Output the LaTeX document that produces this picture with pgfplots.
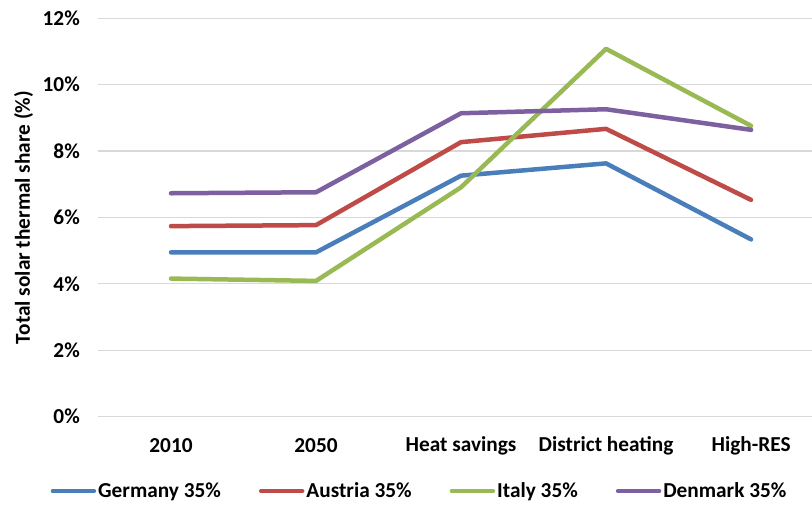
\documentclass[border=0pt]{standalone}
\usepackage{fontspec}
\setmainfont{Carlito}
\usepackage{pgfplots}
\pgfplotsset{compat=1.18}
\definecolor{germ}{HTML}{4A7EBB}
\definecolor{aust}{HTML}{BE4B48}
\definecolor{ital}{HTML}{98B954}
\definecolor{denm}{HTML}{7D60A0}
\definecolor{gridgray}{HTML}{D9D9D9}
\begin{document}
\begin{tikzpicture}
\useasboundingbox (-98.5pt,-88.3pt) rectangle (713.5pt,416.7pt);
\begin{axis}[
  at={(0,0)}, anchor=south west,
  scale only axis, width=713.5pt, height=398.4pt,
  xmin=-0.5, xmax=4.42, ymin=0, ymax=12,
  xtick={0,...,4},
  xticklabels={2010,2050,Heat savings,District heating,High-RES},
  ytick={0,2,...,12},
  yticklabel={\pgfmathprintnumber{\tick}\%},
  /pgf/number format/assume math mode=true,
  font=\fontsize{21.3}{25}\selectfont\bfseries,
  axis line style={draw=none},
  major tick length=0pt,
  ymajorgrids, grid style={line width=1.2pt, color=gridgray},
  xticklabel style={anchor=center, yshift=-29.3pt},
  yticklabel style={anchor=east, inner xsep=0pt, xshift=-18.5pt},
  ylabel={Total solar thermal share (\%)},
  every axis y label/.style={at={(axis description cs:-0.105,0.5)}, rotate=90, anchor=center},
  legend columns=4,
  legend style={at={(0.45,-0.1865)}, anchor=center, draw=none,
    font=\fontsize{21.3}{25}\selectfont\bfseries,
    inner xsep=0pt,
    /tikz/every even column/.append style={column sep=36pt}},
  legend cell align=left,
  legend image code/.code={\draw[#1, line width=4.5pt, line cap=round] (0pt,0pt) -- (41pt,0pt);},
  every axis plot/.append style={line width=4.5pt, line cap=round, line join=round},
]
\addplot[germ] coordinates {(0,4.95) (1,4.95) (2,7.26) (3,7.63) (4,5.34)};
\addplot[aust] coordinates {(0,5.74) (1,5.77) (2,8.27) (3,8.67) (4,6.53)};
\addplot[ital] coordinates {(0,4.16) (1,4.09) (2,6.91) (3,11.08) (4,8.76)};
\addplot[denm] coordinates {(0,6.73) (1,6.76) (2,9.14) (3,9.26) (4,8.64)};
\legend{Germany 35\%, Austria 35\%, Italy 35\%, Denmark 35\%}
\end{axis}
\end{tikzpicture}
\end{document}
